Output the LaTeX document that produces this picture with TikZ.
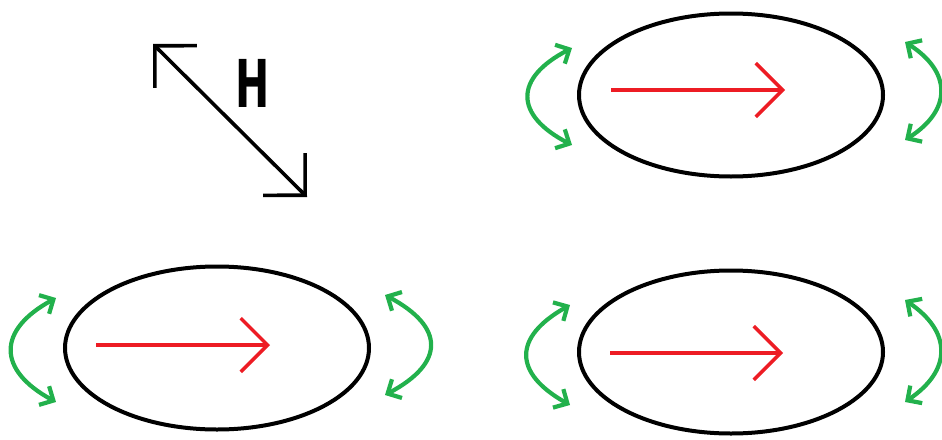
\documentclass[tikz,border=0pt]{standalone}
\usepackage{fontspec}
\usepackage{tikz}
\usetikzlibrary{arrows.meta, shapes.geometric}

\newfontfamily\labelfont{DejaVu Sans}
\definecolor{paintred}{RGB}{237,28,36}
\definecolor{paintgreen}{RGB}{34,177,76}

\begin{document}
\begin{tikzpicture}[
    x=1pt, y=-1pt,
    grain/.style={draw, ellipse, line width=4pt, minimum width=304pt, minimum height=163pt, inner sep=0pt},
    field/.style={{Straight Barb[angle=90:42pt, line cap=butt]}-{Straight Barb[angle=90:42pt, line cap=butt]}, line width=3.6pt},
    moment/.style={-{Straight Barb[angle=90:38pt, line cap=butt]}, line width=3.4pt, paintred},
    spin/.style={{Straight Barb[angle=90:15pt]}-{Straight Barb[angle=90:15pt]}, line width=4.2pt, paintgreen, line cap=round}
]
\useasboundingbox (0,0) rectangle (942,439);

% applied field
\coordinate (h_a) at (153,44);
\coordinate (h_b) at (307,197);
\draw[field] (h_a) -- (h_b);
\node[font=\labelfont\bfseries\fontsize{66}{66}\selectfont, xscale=0.62, inner sep=0pt] (h_l) at (253,83) {H};

% top right grain
\node[grain] (g_tr) at (731,95) {};
\draw[moment] (611,90) -- (785,90);
\draw[spin] (572,48) .. controls (514,78) and (514,115) .. (572,145);
\draw[spin] (905,42) .. controls (952,72) and (952,110) .. (905,140);

% bottom left grain
\node[grain] (g_bl) at (217,348) {};
\draw[moment] (96,345) -- (270,345);
\draw[spin] (56,298) .. controls (-3,330) and (-3,370) .. (56,402);
\draw[spin] (385,295) .. controls (445,327) and (445,363) .. (385,395);

% bottom right grain
\node[grain] (g_br) at (731,352) {};
\draw[moment] (610,353) -- (783,353);
\draw[spin] (570,305) .. controls (513,337) and (513,373) .. (570,405);
\draw[spin] (905,300) .. controls (952,332) and (952,370) .. (905,402);
\end{tikzpicture}
\end{document}
